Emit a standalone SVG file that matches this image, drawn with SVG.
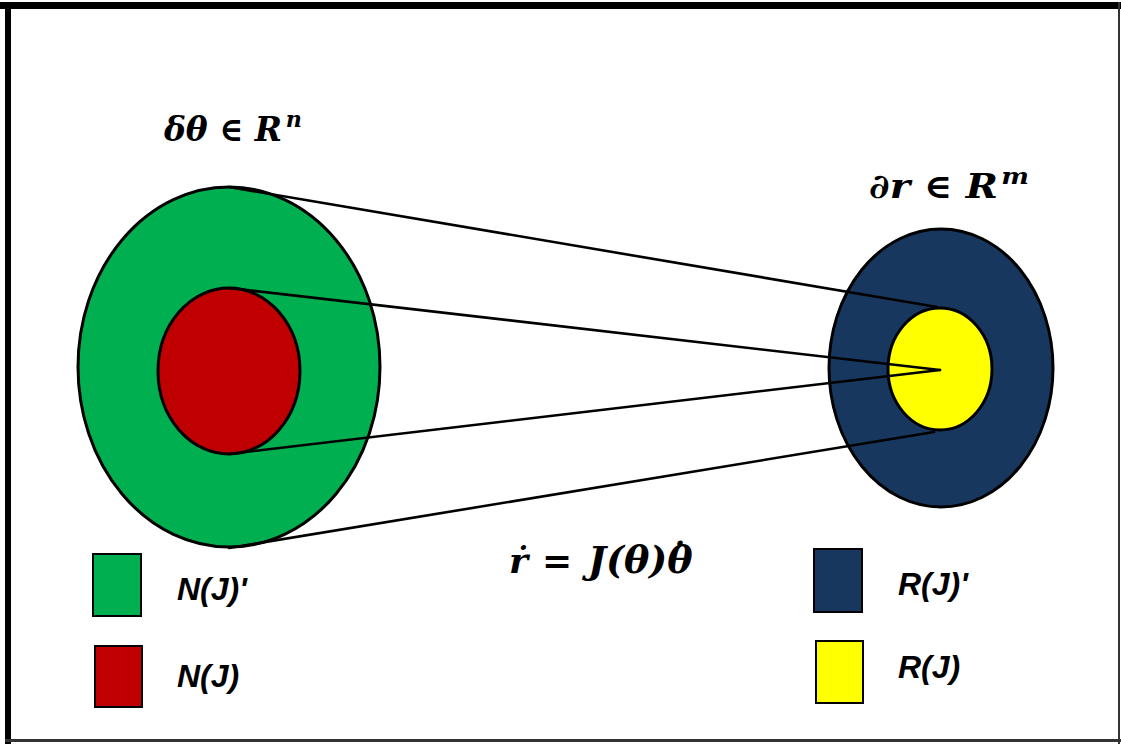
<svg xmlns="http://www.w3.org/2000/svg" width="1121" height="744" viewBox="0 0 1121 744">
  <style>
    .edge { stroke: #000; stroke-width: 2.6; fill: none; stroke-linecap: round; }
    .shape { stroke: #000; stroke-width: 3; }
    .key { stroke: #000; stroke-width: 2; }
    .math { font-family: "DejaVu Serif", "Liberation Serif", serif; font-weight: bold; font-style: italic; fill: #000; }
    .label { font-family: "Liberation Sans", Arial, sans-serif; font-style: italic; font-weight: bold; font-size: 32px; fill: #000; }
  </style>

  <!-- page and frame -->
  <rect x="0" y="0" width="1121" height="744" fill="#fff"/>
  <rect x="0" y="2" width="1121" height="7" fill="#000"/>
  <rect x="5" y="2" width="6" height="742" fill="#000"/>
  <rect x="1118" y="2" width="2" height="742" fill="#333"/>
  <rect x="5" y="739" width="1116" height="3" fill="#333"/>

  <!-- joint space (left) -->
  <g id="joint-space">
    <ellipse class="shape" cx="229" cy="367" rx="151" ry="180" fill="#00B050"/>
  </g>
  <g id="null-space">
    <ellipse class="shape" cx="229" cy="371" rx="71" ry="83" fill="#C00000"/>
  </g>

  <!-- task space (right) -->
  <g id="task-space">
    <ellipse class="shape" cx="941" cy="368" rx="112" ry="139" fill="#17375E"/>
  </g>
  <g id="range-space">
    <ellipse class="shape" cx="940" cy="369" rx="52" ry="61" fill="#FFFF00"/>
  </g>

  <!-- mapping lines -->
  <g id="connectors">
    <line class="edge" x1="229" y1="187" x2="937" y2="307"/>
    <line class="edge" x1="229" y1="288" x2="940" y2="370"/>
    <line class="edge" x1="229" y1="454" x2="940" y2="370"/>
    <line class="edge" x1="229" y1="548" x2="934" y2="432"/>
  </g>

  <!-- space labels -->
  <g id="joint-label">
    <text class="math" x="164" y="141" font-size="34" textLength="138" lengthAdjust="spacingAndGlyphs">δθ ∈ R<tspan font-size="23" dx="4" dy="-14">n</tspan></text>
  </g>
  <g id="task-label">
    <text class="math" x="869" y="198" font-size="34" textLength="160" lengthAdjust="spacingAndGlyphs">∂r ∈ R<tspan font-size="23" dx="3" dy="-14">m</tspan></text>
  </g>
  <g id="equation">
    <text class="math" y="573" font-size="36"><tspan x="509">ṙ</tspan><tspan x="542">=</tspan><tspan x="588" font-size="38">J(θ)θ</tspan><tspan dx="-18" dy="-27" font-size="30">.</tspan></text>
  </g>

  <!-- legend -->
  <g id="legend-null-complement">
    <rect class="key" x="93" y="554" width="48" height="62" fill="#00B050"/>
    <text class="label" x="177" y="600">N(J)'</text>
  </g>
  <g id="legend-null">
    <rect class="key" x="95" y="646" width="47" height="61" fill="#C00000"/>
    <text class="label" x="177" y="687">N(J)</text>
  </g>
  <g id="legend-range-complement">
    <rect class="key" x="814" y="549" width="48" height="63" fill="#17375E"/>
    <text class="label" x="898" y="595">R(J)'</text>
  </g>
  <g id="legend-range">
    <rect class="key" x="816" y="641" width="47" height="62" fill="#FFFF00"/>
    <text class="label" x="898" y="678">R(J)</text>
  </g>
</svg>
